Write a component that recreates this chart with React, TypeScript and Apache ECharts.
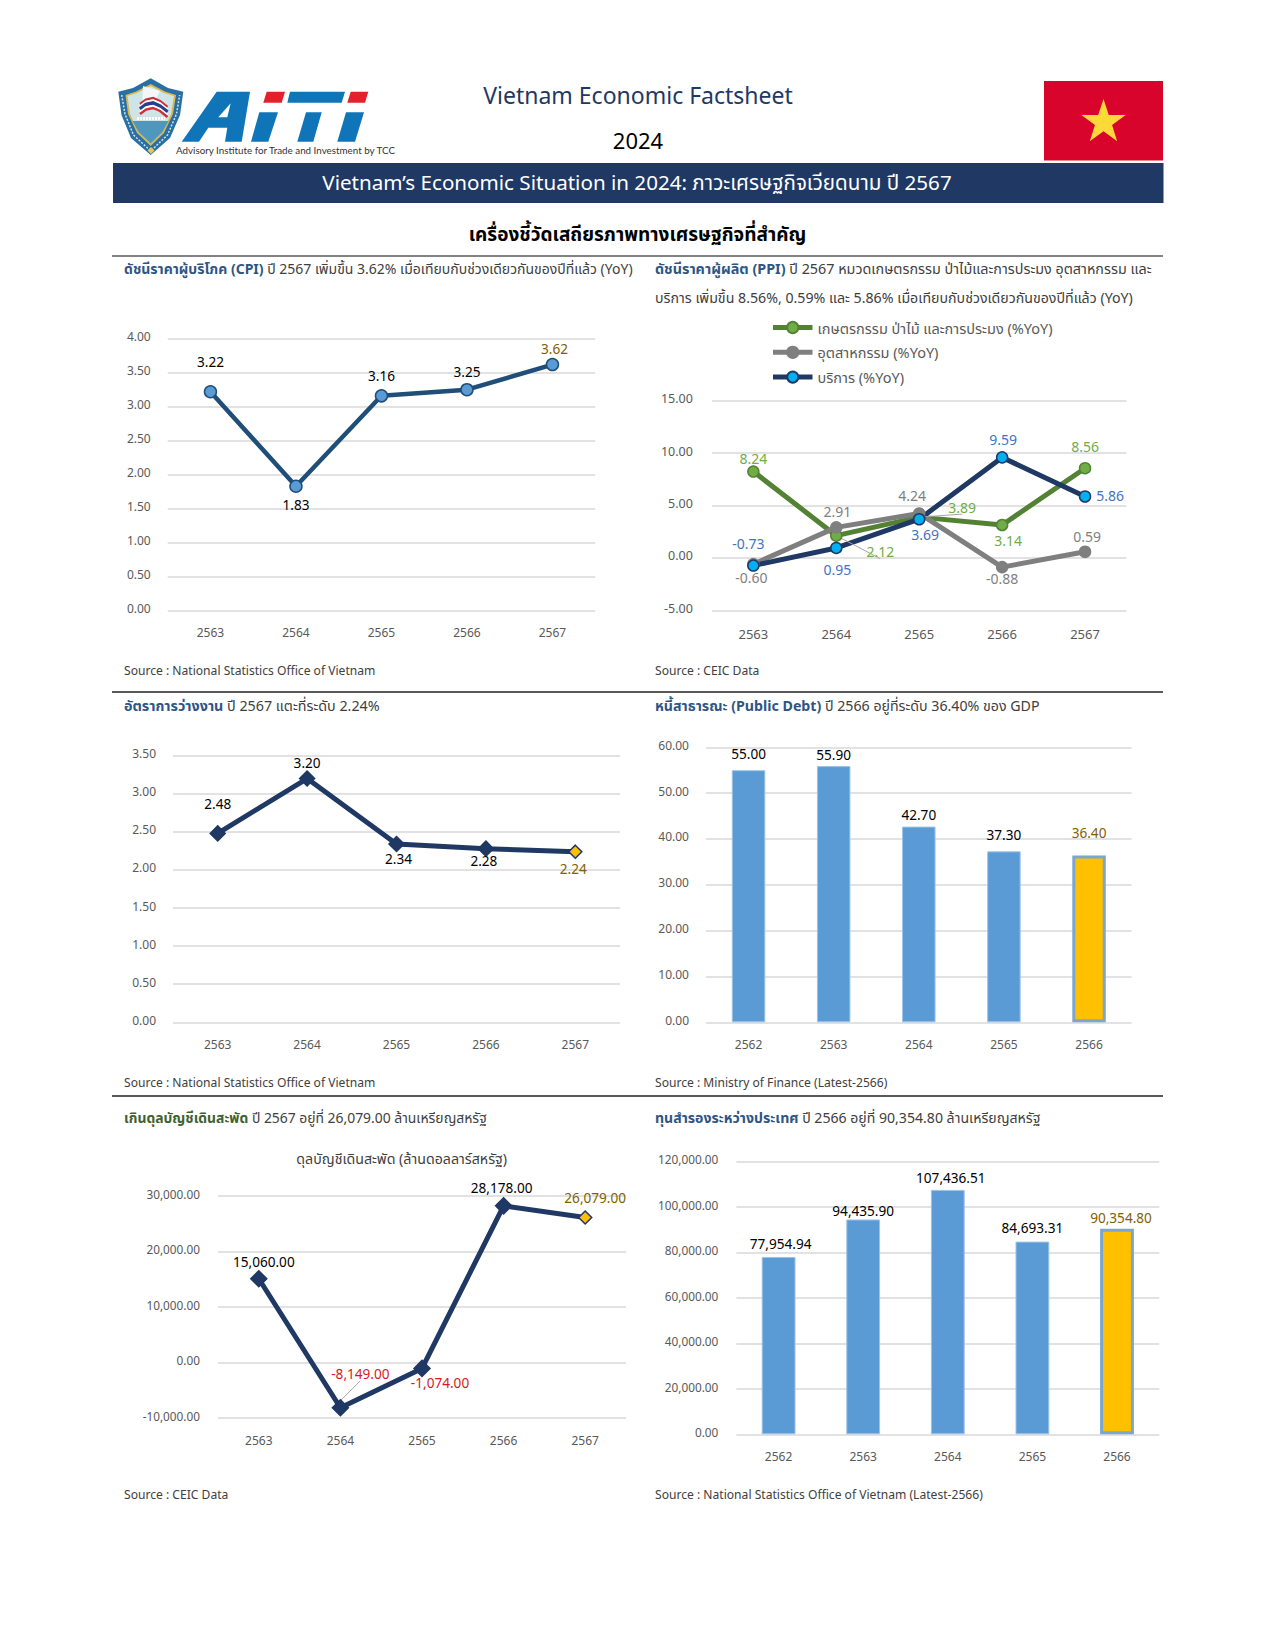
import React, { useEffect, useRef } from "react";
import * as echarts from "echarts";

const FF = '"Noto Sans","Noto Sans Thai",Tahoma,sans-serif';

const yearsLate = ["2563", "2564", "2565", "2566", "2567"];
const yearsEarly = ["2562", "2563", "2564", "2565", "2566"];

const cpiValues = [3.22, 1.83, 3.16, 3.25, 3.62];
const ppiAgri = [8.24, 2.12, 3.89, 3.14, 8.56];
const ppiIndustry = [-0.6, 2.91, 4.24, -0.88, 0.59];
const ppiServices = [-0.73, 0.95, 3.69, 9.59, 5.86];
const unemploymentValues = [2.48, 3.2, 2.34, 2.28, 2.24];
const debtValues = [55.0, 55.9, 42.7, 37.3, 36.4];
const currentAccountValues = [15060, -8149, -1074, 28178, 26079];
const reserveValues = [77954.94, 94435.9, 107436.51, 84693.31, 90354.8];

const ppiNames = ["เกษตรกรรม ป่าไม้ และการประมง (%YoY)", "อุตสาหกรรม (%YoY)", "บริการ (%YoY)"];

const fmt = (v: number) =>
  v.toLocaleString("en-US", { minimumFractionDigits: 2, maximumFractionDigits: 2 });

const GRID_LINE = "#d9d9d9";
const AXIS_TEXT = "#595959";
const NAVY = "#1f3864";
const GOLD_TEXT = "#7f6000";
const SOURCE_SIZE = 12.1;

type Off = [number, number];

const labelOf = (offset: Off, color: string, fontSize: number, position: string = "inside") => ({
  show: true,
  position,
  offset,
  color,
  fontFamily: FF,
  fontSize,
  formatter: (p: any) => fmt(p.value),
});

function lineSeries(
  idx: number,
  values: number[],
  offsets: Off[],
  opts: {
    name?: string;
    line: string;
    fill: string;
    symbol?: string;
    size?: number;
    width?: number;
    fontSize?: number;
    labelColor?: string;
    negativeLabel?: string;
    lastFill?: string;
    lastLabel?: string;
    lastSize?: number;
    leaders?: number[];
  }
) {
  return {
    type: "line",
    name: opts.name,
    xAxisIndex: idx,
    yAxisIndex: idx,
    symbol: opts.symbol || "circle",
    symbolSize: opts.size || 11,
    showSymbol: true,
    lineStyle: { color: opts.line, width: opts.width || 5 },
    itemStyle: { color: opts.fill, borderColor: opts.line, borderWidth: 1.5 },
    z: 3,
    data: values.map((v, i) => {
      const last = i === values.length - 1;
      let color = opts.labelColor || "#000";
      if (last && opts.lastLabel) color = opts.lastLabel;
      if (v < 0 && opts.negativeLabel) color = opts.negativeLabel;
      const item: any = { value: v, label: labelOf(offsets[i], color, opts.fontSize || 13.6) };
      if (last && opts.lastFill) {
        item.itemStyle = { color: opts.lastFill, borderColor: opts.line, borderWidth: 1.5 };
        item.symbolSize = opts.lastSize || 11;
      }
      if (opts.leaders && opts.leaders.includes(i)) {
        item.labelLine = { show: true, lineStyle: { color: "#a6a6a6", width: 1 } };
      }
      return item;
    }),
  };
}

function barSeries(idx: number, values: number[], offsets: Off[], barWidth: number) {
  return {
    type: "bar",
    xAxisIndex: idx,
    yAxisIndex: idx,
    barWidth,
    z: 3,
    itemStyle: { color: "#5b9bd5", borderColor: "#9dc3e6", borderWidth: 1 },
    data: values.map((v, i) => {
      const last = i === values.length - 1;
      return {
        value: v,
        label: labelOf(offsets[i], last ? GOLD_TEXT : "#000", 13.6, "top"),
        itemStyle: last ? { color: "#ffc000", borderColor: "#7ba7cf", borderWidth: 3 } : undefined,
      };
    }),
  };
}

const gridBoxes = [
  { left: 167.7, top: 338.7, width: 427.5, height: 272 },
  { left: 711.9, top: 400.7, width: 414.6, height: 209.6 },
  { left: 173, top: 755.7, width: 447, height: 266.6 },
  { left: 706, top: 747.3, width: 425.6, height: 275 },
  { left: 736.3, top: 1161.3, width: 423, height: 273 },
  { left: 218, top: 1195.7, width: 408, height: 222.3 },
];
const axisRanges = [
  { min: 0, max: 4, interval: 0.5, margin: 17, catMargin: 16, size: 12, catSize: 12, cats: yearsLate },
  { min: -5, max: 15, interval: 5, margin: 19, catMargin: 17, size: 12.5, catSize: 13, cats: yearsLate },
  { min: 0, max: 3.5, interval: 0.5, margin: 17, catMargin: 16, size: 12, catSize: 12, cats: yearsLate },
  { min: 0, max: 60, interval: 10, margin: 17, catMargin: 16, size: 12, catSize: 12, cats: yearsEarly },
  { min: 0, max: 120000, interval: 20000, margin: 18, catMargin: 16, size: 11.8, catSize: 12, cats: yearsEarly },
  { min: -10000, max: 30000, interval: 10000, margin: 18, catMargin: 16, size: 11.8, catSize: 12, cats: yearsLate },
];

const rich = (a: string, aColor: string, b: string, size: number) => ({
  text: `{a|${a}}{b| ${b}}`,
  rich: {
    a: { fill: aColor, fontFamily: FF, fontSize: size, fontWeight: "bold" },
    b: { fill: "#404040", fontFamily: FF, fontSize: size },
  },
});

const txt = (
  x: number,
  y: number,
  text: string,
  fontSize: number,
  fill: string,
  align = "left",
  fontWeight = "normal"
) => ({
  type: "text",
  x,
  y,
  silent: true,
  style: { text, fontSize, fill, fontFamily: FF, align, verticalAlign: "middle", fontWeight },
});

const richTxt = (x: number, y: number, r: any) => ({
  type: "text",
  x,
  y,
  silent: true,
  style: { ...r, fontFamily: FF, verticalAlign: "middle", align: "left" },
});

const poly = (points: number[][], fill: string, z = 1) => ({
  type: "polygon",
  silent: true,
  z,
  shape: { points },
  style: { fill },
});

const rule = (y: number, stroke: string) => ({
  type: "line",
  silent: true,
  shape: { x1: 112, y1: y, x2: 1163, y2: y },
  style: { stroke, lineWidth: 1.5 },
});

const starPoints = (cx: number, cy: number, R: number, r: number) => {
  const pts: number[][] = [];
  for (let i = 0; i < 10; i++) {
    const rad = i % 2 === 0 ? R : r;
    const a = -Math.PI / 2 + (i * Math.PI) / 5;
    pts.push([cx + rad * Math.cos(a), cy + rad * Math.sin(a)]);
  }
  return pts;
};

const stripe = (dy: number, stroke: string, lineWidth: number) => ({
  type: "polyline",
  silent: true,
  z: 3,
  shape: {
    points: [
      [140, 109 + dy],
      [146, 104.5 + dy],
      [153, 103 + dy],
      [160, 106 + dy],
      [167.5, 112 + dy],
    ],
  },
  style: { stroke, lineWidth, fill: "none" },
});

const BLUE_LOGO = "#0f75b8";
const RED_LOGO = "#e3202c";

const graphics: any[] = [
  // crest
  poly(
    [
      [150.7, 78.3],
      [168, 88],
      [183.3, 91.7],
      [180, 115],
      [170, 138],
      [150.7, 155],
      [131, 138],
      [121.5, 115],
      [118.3, 91.7],
      [133, 88],
    ],
    "#2a6fa3"
  ),
  {
    type: "polyline",
    silent: true,
    z: 2,
    shape: {
      points: [
        [121.7, 95],
        [125, 114],
        [133.5, 135],
        [150.7, 151],
        [167.5, 135],
        [176.5, 114],
        [179.7, 95],
      ],
    },
    style: { stroke: "#cfe3ee", lineWidth: 1.5, lineDash: [2, 1.5], fill: "none" },
  },
  poly(
    [
      [150.7, 84],
      [165, 91.5],
      [176, 95],
      [173, 114],
      [164, 133],
      [150.7, 146],
      [137, 133],
      [128, 114],
      [125.5, 95],
      [136, 91.5],
    ],
    "#d9b84f",
    2
  ),
  poly(
    [
      [150.7, 86],
      [164, 93],
      [174, 96],
      [171, 114],
      [162.5, 132],
      [150.7, 143.5],
      [138.5, 132],
      [130, 114],
      [127.5, 96],
      [137, 93],
    ],
    "#cfe4e6",
    2
  ),
  poly(
    [
      [143, 86],
      [160, 91],
      [155, 102],
      [142, 104],
    ],
    "#f3f7f8",
    2
  ),
  poly(
    [
      [132.5, 121],
      [168.5, 121],
      [162.5, 132],
      [150.7, 143.5],
      [138.5, 132],
    ],
    "#4f97bd",
    2
  ),
  {
    type: "polyline",
    silent: true,
    z: 3,
    shape: {
      points: [
        [137, 118.5],
        [165, 118.5],
      ],
    },
    style: { stroke: "#ffffff", lineWidth: 3, lineDash: [2, 1], fill: "none" },
  },
  poly(
    [
      [151, 147],
      [154.5, 150.5],
      [151, 154],
      [147.5, 150.5],
    ],
    "#e4c65c",
    3
  ),
  stripe(-5, "#cf2e3b", 2.4),
  stripe(-2.8, "#ffffff", 2),
  stripe(0, "#27408b", 3.6),
  stripe(2.8, "#ffffff", 2),
  stripe(5, "#cf2e3b", 2.4),
  // wordmark
  poly(
    [
      [181.7, 141.7],
      [216.7, 91.7],
      [250, 91.7],
      [241.7, 141.7],
      [225, 141.7],
      [227.3, 127.7],
      [208.3, 127.7],
      [199, 141.7],
    ],
    BLUE_LOGO
  ),
  poly(
    [
      [218.3, 117.3],
      [230.7, 103.3],
      [227.3, 117.3],
    ],
    "#ffffff",
    2
  ),
  poly([[266.7, 91.7], [285, 91.7], [281.7, 102.7], [263.3, 102.7]], RED_LOGO),
  poly([[259.3, 112.3], [278, 112.3], [268.3, 141.7], [251, 141.7]], BLUE_LOGO),
  poly([[290, 91.7], [345, 91.7], [341.7, 102.7], [287.3, 102.7]], BLUE_LOGO),
  poly([[306, 112.3], [321.7, 112.3], [313.3, 141.7], [297.3, 141.7]], BLUE_LOGO),
  poly([[350.7, 91.7], [368.3, 91.7], [365, 102.7], [347.3, 102.7]], RED_LOGO),
  poly([[346, 112.3], [364, 112.3], [355, 141.7], [337.3, 141.7]], BLUE_LOGO),
  {
    type: "text",
    x: 176,
    y: 150,
    silent: true,
    style: {
      text: "Advisory Institute for Trade and Investment by TCC",
      fontFamily: "Lato",
      fontSize: 9.8,
      fill: "#333333",
      verticalAlign: "middle",
    },
  },
  // header
  txt(638, 95, "Vietnam Economic Factsheet", 23, NAVY, "center"),
  txt(638, 140, "2024", 22, "#000000", "center"),
  { type: "rect", silent: true, shape: { x: 1044, y: 81, width: 119, height: 79.5 }, style: { fill: "#d9042b" } },
  poly(starPoints(1103.5, 122.3, 23.3, 9), "#ffd83a", 2),
  { type: "rect", silent: true, shape: { x: 113, y: 163, width: 1050.5, height: 40 }, style: { fill: NAVY } },
  txt(637, 182, "Vietnam’s Economic Situation in 2024: ภาวะเศรษฐกิจเวียดนาม ปี 2567", 20.6, "#ffffff", "center"),
  txt(637.5, 233.5, "เครื่องชี้วัดเสถียรภาพทางเศรษฐกิจที่สำคัญ", 19, "#000000", "center", "bold"),
  rule(256, "#595959"),
  rule(692, "#222222"),
  rule(1096, "#222222"),
  // panel headings
  richTxt(124, 268, rich("ดัชนีราคาผู้บริโภค (CPI)", "#2f5583", "ปี 2567 เพิ่มขึ้น 3.62% เมื่อเทียบกับช่วงเดียวกันของปีที่แล้ว (YoY)", 14)),
  richTxt(655, 268, rich("ดัชนีราคาผู้ผลิต (PPI)", "#2f5583", "ปี 2567 หมวดเกษตรกรรม ป่าไม้และการประมง อุตสาหกรรม และ", 14.35)),
  txt(655, 297, "บริการ เพิ่มขึ้น 8.56%, 0.59% และ 5.86% เมื่อเทียบกับช่วงเดียวกันของปีที่แล้ว (YoY)", 14.2, "#404040"),
  richTxt(124, 705.7, rich("อัตราการว่างงาน", "#2f5583", "ปี 2567 แตะที่ระดับ 2.24%", 14.3)),
  richTxt(655, 705.7, rich("หนี้สาธารณะ (Public Debt)", "#2f5583", "ปี 2566 อยู่ที่ระดับ 36.40% ของ GDP", 14.2)),
  richTxt(124, 1117, rich("เกินดุลบัญชีเดินสะพัด", "#3f6130", "ปี 2567 อยู่ที่ 26,079.00 ล้านเหรียญสหรัฐ", 13.9)),
  richTxt(655, 1117.7, rich("ทุนสำรองระหว่างประเทศ", "#2f5583", "ปี 2566 อยู่ที่ 90,354.80 ล้านเหรียญสหรัฐ", 14.1)),
  txt(401.7, 1158, "ดุลบัญชีเดินสะพัด (ล้านดอลลาร์สหรัฐ)", 14.2, "#404040", "center"),
  // sources
  txt(124, 670.7, "Source : National Statistics Office of Vietnam", SOURCE_SIZE, "#404040"),
  txt(655, 670.7, "Source : CEIC Data", SOURCE_SIZE, "#404040"),
  txt(124, 1082.7, "Source : National Statistics Office of Vietnam", SOURCE_SIZE, "#404040"),
  txt(655, 1082.7, "Source : Ministry of Finance (Latest-2566)", SOURCE_SIZE, "#404040"),
  txt(124, 1494, "Source : CEIC Data", SOURCE_SIZE, "#404040"),
  txt(655, 1494, "Source : National Statistics Office of Vietnam (Latest-2566)", SOURCE_SIZE, "#404040"),
];

const cpiOffsets: Off[] = [[0, -30], [0, 18], [0, -20], [0, -18], [2, -16]];
const agriOffsets: Off[] = [[0, -13], [44, 16], [43, -10], [6, 16], [0, -22]];
const industryOffsets: Off[] = [[-2, 13], [1, -16], [-7, -18], [0, 11], [2, -15]];
const serviceOffsets: Off[] = [[-5, -22], [1, 22], [6, 15], [1, -18], [25, -1]];
const unemploymentOffsets: Off[] = [[0, -30], [0, -16], [2, 14], [-2, 12], [-2, 17]];
const debtOffsets: Off[] = [[0, -5], [0, 0], [0, 0], [0, -5], [0, -11]];
const accountOffsets: Off[] = [[5, -17], [20, -34], [18, 14], [-2, -18], [10, -20]];
const reserveOffsets: Off[] = [[2, -1], [0, 3], [3, 0], [0, -2], [4, 1]];

function buildOption() {
  return {
    animation: false,
    backgroundColor: "#ffffff",
    textStyle: { fontFamily: FF },
    grid: gridBoxes.map((g) => ({ ...g, containLabel: false })),
    xAxis: axisRanges.map((a, i) => ({
      type: "category",
      gridIndex: i,
      data: a.cats,
      position: "bottom",
      axisLine: { show: false, onZero: false },
      axisTick: { show: false },
      axisLabel: { color: AXIS_TEXT, fontFamily: FF, fontSize: a.catSize, margin: a.catMargin },
    })),
    yAxis: axisRanges.map((a, i) => ({
      type: "value",
      gridIndex: i,
      min: a.min,
      max: a.max,
      interval: a.interval,
      axisLine: { show: false },
      axisTick: { show: false },
      axisLabel: {
        color: AXIS_TEXT,
        fontFamily: FF,
        fontSize: a.size,
        margin: a.margin,
        formatter: (v: number) => `{v|${fmt(v)}}`,
        rich: {
          v: {
            color: AXIS_TEXT,
            fontFamily: FF,
            fontSize: a.size,
            padding: [0, 0, 4, 0],
          },
        },
      },
      splitLine: { show: true, lineStyle: { color: GRID_LINE, width: 1.5 } },
    })),
    legend: {
      show: true,
      left: 770.5,
      top: 320,
      padding: 0,
      orient: "vertical",
      itemWidth: 39.5,
      itemHeight: 14,
      itemGap: 9.8,
      lineStyle: { width: 5 },
      data: ppiNames,
      textStyle: { color: AXIS_TEXT, fontFamily: FF, fontSize: 14.5 },
    },
    series: [
      lineSeries(0, cpiValues, cpiOffsets, {
        line: "#1f4e79",
        fill: "#5b9bd5",
        size: 12,
        width: 4.5,
        lastLabel: GOLD_TEXT,
      }),
      lineSeries(1, ppiAgri, agriOffsets, {
        name: ppiNames[0],
        line: "#548235",
        fill: "#70ad47",
        labelColor: "#70ad47",
        fontSize: 14,
        leaders: [1, 2],
      }),
      lineSeries(1, ppiIndustry, industryOffsets, {
        name: ppiNames[1],
        line: "#7f7f7f",
        fill: "#7f7f7f",
        labelColor: "#7f7f7f",
        fontSize: 14,
      }),
      lineSeries(1, ppiServices, serviceOffsets, {
        name: ppiNames[2],
        line: NAVY,
        fill: "#00b0f0",
        labelColor: "#4472c4",
        fontSize: 14,
      }),
      lineSeries(2, unemploymentValues, unemploymentOffsets, {
        line: NAVY,
        fill: NAVY,
        symbol: "diamond",
        size: 15,
        lastFill: "#ffc000",
        lastLabel: GOLD_TEXT,
        lastSize: 13,
      }),
      barSeries(3, debtValues, debtOffsets, 33.5),
      barSeries(4, reserveValues, reserveOffsets, 33.8),
      lineSeries(5, currentAccountValues, accountOffsets, {
        line: NAVY,
        fill: NAVY,
        symbol: "diamond",
        size: 16,
        negativeLabel: "#d7191c",
        lastFill: "#ffc000",
        lastLabel: GOLD_TEXT,
        lastSize: 13,
        leaders: [1],
      }),
    ],
    graphic: { elements: graphics },
  };
}

export default function App() {
  const ref = useRef<HTMLDivElement>(null);
  useEffect(() => {
    const chart = echarts.init(ref.current!, undefined, { renderer: "svg" });
    chart.setOption(buildOption() as any);
    return () => chart.dispose();
  }, []);
  return (
    <div
      ref={ref}
      style={{ position: "absolute", left: 0, top: 0, width: 1275, height: 1650, background: "#fff" }}
    />
  );
}
